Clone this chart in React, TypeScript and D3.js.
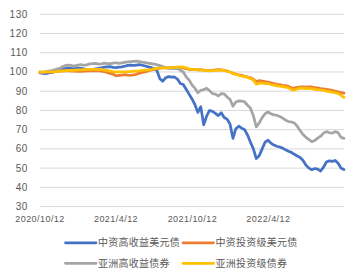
import React from "react";
import * as d3 from "d3";

const startDate = "2020-10-12";
const weekCount = 105;

const tickLabels = ["2020/10/12", "2021/4/12", "2021/10/12", "2022/4/12"];
const yTicks = [30, 40, 50, 60, 70, 80, 90, 100, 110, 120, 130];

const seriesNames = ["中资高收益美元债", "中资投资级美元债", "亚洲高收益债券", "亚洲投资级债券"];
const seriesColors = ["#4472C4", "#ED7D31", "#A5A5A5", "#FFC000"];

const chinaHY = [
  99.5, 99.3, 99.2, 99.5, 99.8, 100.2, 100.6, 101, 101.6, 101.9,
  102, 101.8, 101.8, 102, 101.9, 101.6, 101.3, 101, 101.3, 101.6,
  101.9, 102.2, 102.5, 102.7, 102.8, 102.4, 102.3, 102.5, 102.7, 103,
  103.4, 103.6, 103.4, 103.6, 103.8, 103.5, 103.1, 102.7, 102.3, 101.7,
  100.8, 96.5, 95.2, 97, 97.6, 97.3, 97.4, 96.3, 94, 93.5,
  91, 88.5, 86, 83, 79, 82, 72.5, 77, 80, 79.5,
  78.5, 77.3, 78.8, 76.3, 75.5, 73, 65.5, 70.5, 71.8, 70.8,
  70, 67.2, 63.5, 60, 55, 56.5, 60, 63.5, 64.5, 63,
  62, 61.4, 61, 60.4, 59.5, 58.8, 58.2, 57.2, 56.3, 55.5,
  54, 51.5, 50, 49.2, 49.8, 49.5, 48.5, 50.5, 53.2, 53.8,
  53.5, 54, 52.5, 50, 49.3,
];

const chinaIG = [
  99.6, 99.8, 99.9, 100, 100, 100.2, 100.3, 100.4, 100.6, 100.7,
  100.6, 100.5, 100.5, 100.3, 100.3, 100.5, 100.6, 100.6, 100.7, 100.6,
  100.7, 100.5, 100.2, 99.8, 99.3, 98.8, 98, 98.2, 98.4, 98.6,
  98.4, 98.3, 98.5, 98.8, 99.4, 99.8, 100, 100.5, 101, 101.4,
  101.8, 102, 102.2, 102.3, 102.2, 102.3, 102.4, 102.3, 102.3, 102.1,
  101.8, 101.4, 101.2, 101.3, 101.1, 101.2, 101, 100.8, 100.7, 100.9,
  101.1, 101.2, 101.1, 100.8, 100.5, 100, 99.3, 98.9, 98.5, 98.2,
  97.8, 97.4, 97, 96.2, 95, 95.5, 95.3, 95, 94.8, 94.4,
  94, 93.6, 93.4, 93.1, 92.9, 92.5, 91.8, 91.6, 92, 92.2,
  92.3, 92.1, 92.3, 92.2, 91.9, 91.7, 91.4, 91.2, 91, 90.7,
  90.4, 90, 89.7, 89.3, 89,
];

const asiaHY = [
  100, 99.8, 100.1, 100.4, 100.7, 101.1, 101.6, 102.1, 103, 103.5,
  103.6, 103.3, 103.2, 103.6, 103.8, 103.5, 103.7, 104.2, 104.4, 104.5,
  104.1, 104.2, 104.6, 104.4, 104.3, 104.6, 104.8, 104.5, 104.7, 105,
  105.3, 105.4, 105.5, 105.6, 105.4, 105.1, 104.9, 104.6, 104.4, 104.1,
  103.8, 103.3, 102.8, 102.2, 101.9, 101.8, 101.9, 101.8, 101, 100,
  97.5, 95.8, 93.2, 91.6, 89.2, 90.5, 90.8, 91.5, 90.3, 88.8,
  88.5, 87.6, 88.7, 88.6, 87, 85.8, 82.2, 84.4, 85, 84.9,
  84.5, 82.7, 81.2, 77.2, 71.5, 73.5, 76.3, 78.3, 79.2, 78.3,
  77.7, 77.5, 76.9, 76, 75, 74.2, 74, 73.5, 71.8, 69.5,
  67.5, 66, 64.8, 63.8, 64.4, 65.6, 66.6, 68.2, 69, 68.4,
  68.2, 69, 68.4, 66, 65.5,
];

const asiaIG = [
  100, 99.9, 100, 100, 100.1, 100, 100.3, 100.5, 100.6, 100.7,
  100.8, 100.9, 101, 101.1, 101.1, 101.2, 101.3, 101.3, 101.4, 101.4,
  101.4, 101.3, 101, 100.8, 100.5, 100.2, 100, 100, 100, 100.1,
  100.2, 100.2, 100.4, 100.5, 100.6, 100.8, 101, 101.1, 101.3, 101.6,
  101.9, 102, 102.1, 102.2, 102.3, 102.3, 102.4, 102.5, 102.6, 102.5,
  102.2, 101.6, 101.3, 101.2, 101.1, 101.1, 100.9, 100.7, 100.6, 100.7,
  100.9, 101, 101, 100.7, 100.4, 100, 99.2, 98.8, 98.3, 97.9,
  97.6, 97.2, 96.5, 95.8, 93.6, 94.3, 94.2, 94, 94, 93.5,
  93.2, 92.8, 92.6, 92.4, 92.1, 91.8, 90.8, 90.6, 91.2, 91.5,
  91.6, 91.4, 91.5, 91.4, 91, 90.8, 90.6, 90.4, 90.1, 89.8,
  89.5, 89.2, 88.9, 87.8, 86.8,
];

const allSeries = [chinaHY, chinaIG, asiaHY, asiaIG];

const parseIso = d3.timeParse("%Y-%m-%d");
const parseLabel = d3.timeParse("%Y/%m/%d");
const start = parseIso(startDate) as Date;
const dates = d3.range(weekCount).map((i) => d3.timeDay.offset(start, i * 7));

const W = 361;
const H = 280;
const left = 40;
const right = 344;

const x = d3.scaleTime().domain([dates[0], dates[dates.length - 1]]).range([left, right]);
const y = d3.scaleLinear().domain([30, 130]).range([206.6, 14.3]);

const textColor = "#595959";

export default function App() {
  const line = d3
    .line<number>()
    .x((_, i) => x(dates[i]))
    .y((v) => y(v));

  const legendItems = [
    { name: seriesNames[0], color: seriesColors[0], lx: 65.5, ly: 242.8 },
    { name: seriesNames[1], color: seriesColors[1], lx: 183, ly: 242.8 },
    { name: seriesNames[2], color: seriesColors[2], lx: 65.5, ly: 263.3 },
    { name: seriesNames[3], color: seriesColors[3], lx: 183, ly: 263.3 },
  ];

  return (
    <svg
      width={W}
      height={H}
      style={{ position: "absolute", left: 0, top: 0, background: "#fff" }}
    >
      <rect width={W} height={H} fill="#fff" />
      {yTicks.map((t) => (
        <g key={t}>
          <line x1={left} x2={right} y1={y(t)} y2={y(t)} stroke="#d9d9d9" strokeWidth={1} />
          <text
            x={28}
            y={y(t)}
            dy="0.35em"
            textAnchor="end"
            fontSize={10}
            letterSpacing={0.6}
            fontFamily="'Liberation Sans', Arial, sans-serif"
            fill={textColor}
          >
            {t}
          </text>
        </g>
      ))}
      {tickLabels.map((lab) => (
        <text
          key={lab}
          x={x(parseLabel(lab) as Date)}
          y={219}
          dy="0.35em"
          textAnchor="middle"
          fontSize={9}
          letterSpacing={0.45}
          fontFamily="'Liberation Sans', Arial, sans-serif"
          fill={textColor}
        >
          {lab}
        </text>
      ))}
      {allSeries.map((s, i) => (
        <path
          key={i}
          d={line(s) || ""}
          fill="none"
          stroke={seriesColors[i]}
          strokeWidth={2.75}
          strokeLinejoin="round"
          strokeLinecap="round"
        />
      ))}
      {legendItems.map((it) => (
        <g key={it.name}>
          <line
            x1={it.lx}
            x2={it.lx + 30.5}
            y1={it.ly}
            y2={it.ly}
            stroke={it.color}
            strokeWidth={2.75}
            strokeLinecap="round"
          />
          <text
            x={it.lx + 32.5}
            y={it.ly}
            dy="0.36em"
            fontSize={10}
            letterSpacing={0.25}
            fontFamily="'Noto Sans CJK SC', sans-serif"
            fill={textColor}
          >
            {it.name}
          </text>
        </g>
      ))}
    </svg>
  );
}
